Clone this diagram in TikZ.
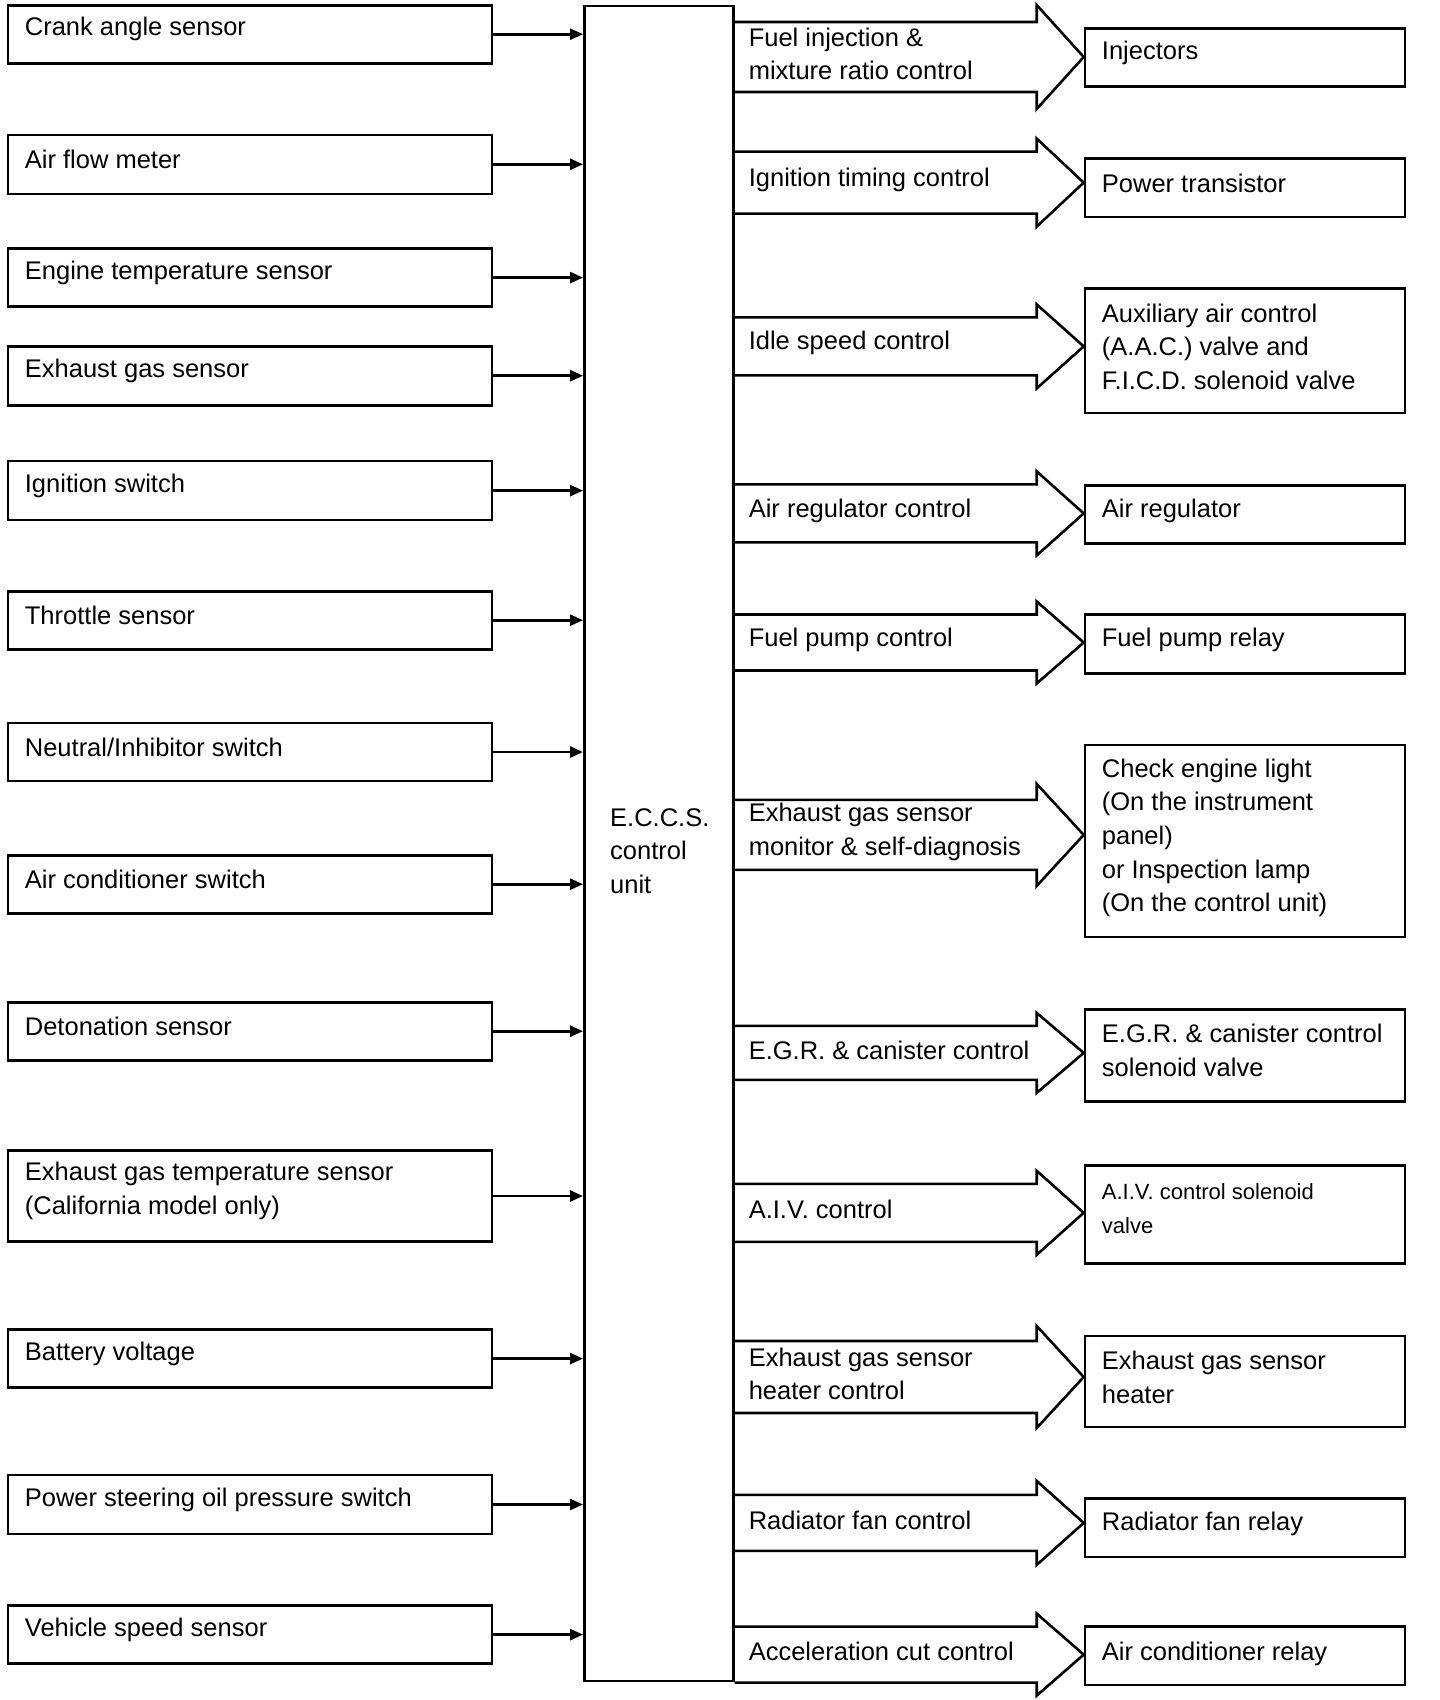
\documentclass[tikz,border=0pt]{standalone}
\usepackage{fontspec}
\setmainfont{Liberation Sans}
\usetikzlibrary{arrows.meta,calc}
\tikzset{
  frame/.style={draw, line width=2.6pt, rectangle, inner sep=0pt},
  sbox/.style={frame, minimum width=484},
  abox/.style={frame, minimum width=320},
  lbl/.style={inner sep=0pt, align=left, font=\fontsize{25.5}{33.6}\selectfont},
  smalllbl/.style={inner sep=0pt, align=left, font=\fontsize{22}{33.6}\selectfont},
  sig/.style={line width=2.6pt, -{Triangle[length=13pt,width=11pt]}},
  blk/.style={line width=2.6pt, line join=miter},
}
\newcommand\sensor[4]{%
  \node[sbox, minimum height=#3] (#1) at (250,#2) {};
  \node[lbl, anchor=west] (#1t) at ($(#1.west)+(18,-5)$) {#4};
  \draw[sig] (#1.east) -- (eccs.west |- #1.east);
}
\newcommand\actuator[5]{% name, y, height, text dy, text
  \node[abox, minimum height=#3] (#1) at (1245,#2) {};
  \node[lbl, anchor=west] (#1t) at ($(#1.west)+(18,#4)$) {#5};
}
\newcommand\blockarrow[6]{% target, dy, half shaft, half head, name, text
  \coordinate (#5r) at ($(#1.west)+(0,#2)$);
  \coordinate (#5l) at (eccs.east |- #5r);
  \draw[blk] ($(#5l)+(0,-#3)$) -- ($(#5r)+(-47,-#3)$) -- ($(#5r)+(-47,-#4)$) -- (#5r)
    -- ($(#5r)+(-47,#4)$) -- ($(#5r)+(-47,#3)$) -- ($(#5l)+(0,#3)$);
  \node[lbl, anchor=west] (#5) at ($(#5l)+(14,-3)$) {#6};
}
\begin{document}
\begin{tikzpicture}[x=1pt,y=-1pt]
\useasboundingbox (0,0) rectangle (1440,1700);
\fill[white] (0,0) rectangle (1440,1700);

% control unit
\node[frame, minimum width=149, minimum height=1675, anchor=north west] (eccs) at (583,4.5) {};
\node[lbl, anchor=west] (eccst) at (610,851) {E.C.C.S.\\control\\unit};

% inputs
\sensor{s1}{34.2}{58}{Crank angle sensor}
\sensor{s2}{164.3}{59}{Air flow meter}
\sensor{s3}{277.6}{58}{Engine temperature sensor}
\sensor{s4}{375.7}{59}{Exhaust gas sensor}
\sensor{s5}{490.6}{59}{Ignition switch}
\sensor{s6}{620.2}{58}{Throttle sensor}
\sensor{s7}{752.0}{58}{Neutral/Inhibitor switch}
\sensor{s8}{884.2}{58}{Air conditioner switch}
\sensor{s9}{1031.2}{58}{Detonation sensor}
\sensor{s10}{1196.0}{91}{Exhaust gas temperature sensor\\(California model only)}
\sensor{s11}{1358.6}{58}{Battery voltage}
\sensor{s12}{1504.5}{59}{Power steering oil pressure switch}
\sensor{s13}{1634.6}{58}{Vehicle speed sensor}

% outputs
\actuator{a1}{57.5}{58.5}{-5}{Injectors}
\actuator{a2}{187.6}{58.5}{-4}{Power transistor}
\actuator{a3}{350.8}{124.7}{-4}{Auxiliary air control\\(A.A.C.) valve and\\F.I.C.D. solenoid valve}
\actuator{a4}{514.5}{57.5}{-4}{Air regulator}
\actuator{a5}{644}{58.5}{-4}{Fuel pump relay}
\actuator{a6}{840.9}{192}{-3}{Check engine light\\(On the instrument\\panel)\\or Inspection lamp\\(On the control unit)}
\actuator{a7}{1055.6}{92}{-5}{E.G.R. \& canister control\\solenoid valve}
\node[abox, minimum height=97.6] (a8) at (1245,1214.4) {};
\node[smalllbl, anchor=west] (a8t) at ($(a8.west)+(18,-6)$) {A.I.V. control solenoid\\valve};
\actuator{a9}{1381.4}{91}{-4}{Exhaust gas sensor\\heater}
\actuator{a10}{1527.8}{58.5}{-4}{Radiator fan relay}
\actuator{a11}{1655.8}{58.5}{-2}{Air conditioner relay}

\blockarrow{a1}{-0.5}{35}{52}{b1}{Fuel injection \&\\mixture ratio control}
\blockarrow{a2}{-5}{31}{44}{b2}{Ignition timing control}
\blockarrow{a3}{-4.4}{29}{42}{b3}{Idle speed control}
\blockarrow{a4}{-1.1}{29}{42}{b4}{Air regulator control}
\blockarrow{a5}{-1.5}{28}{41}{b5}{Fuel pump control}
\blockarrow{a6}{-6}{35}{51}{b6}{Exhaust gas sensor\\monitor \& self-diagnosis}
\blockarrow{a7}{-2.7}{27}{40}{b7}{E.G.R. \& canister control}
\blockarrow{a8}{-1.6}{29}{42}{b8}{A.I.V. control}
\blockarrow{a9}{-4.4}{36}{51}{b9}{Exhaust gas sensor\\heater control}
\blockarrow{a10}{-4.9}{28}{42}{b10}{Radiator fan control}
\blockarrow{a11}{-1.2}{28}{41}{b11}{Acceleration cut control}
\end{tikzpicture}
\end{document}
